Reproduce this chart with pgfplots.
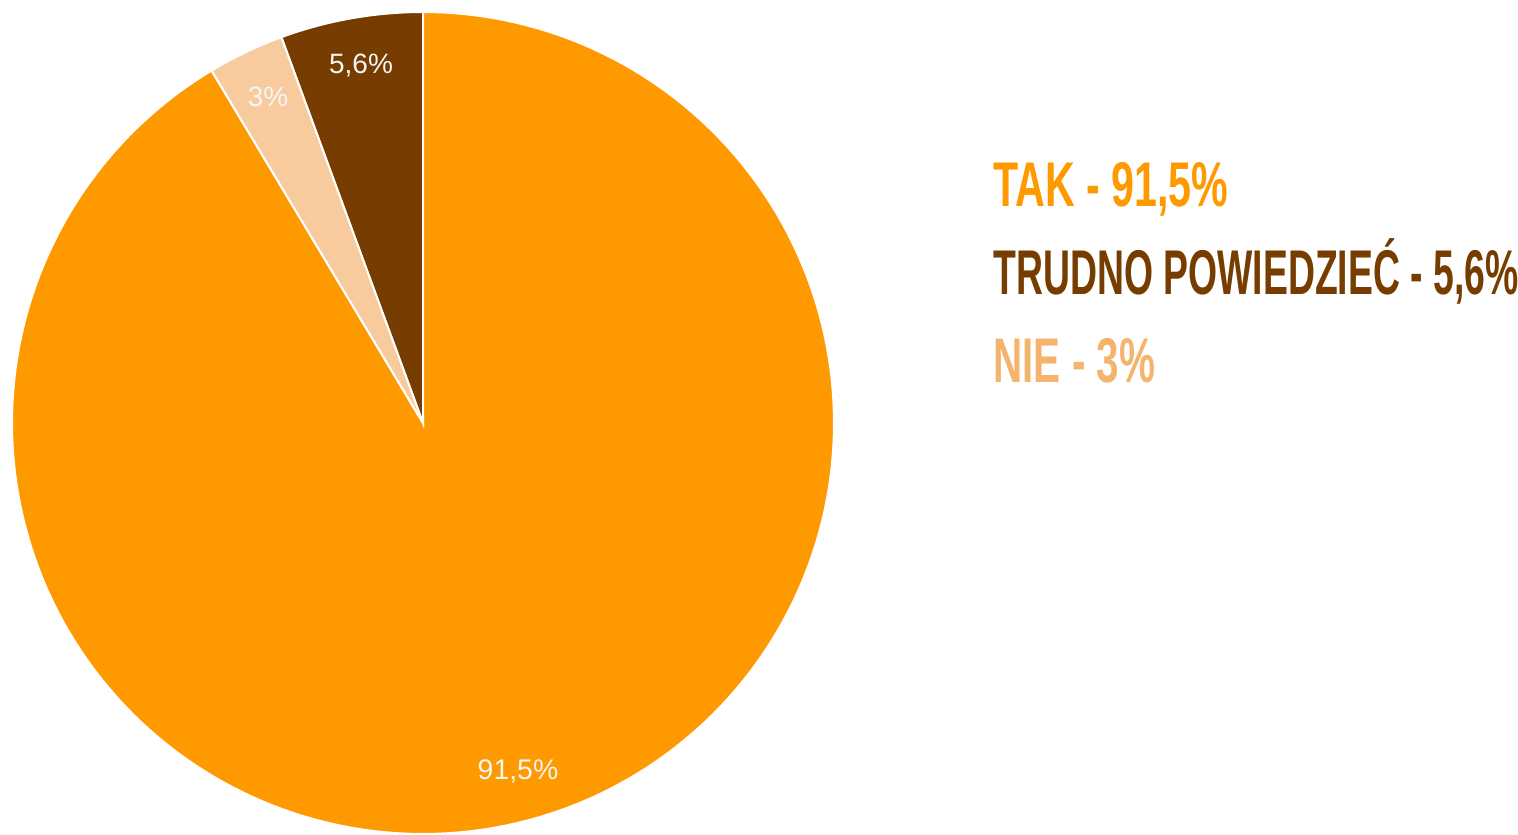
\documentclass[border=0pt]{standalone}
\usepackage{pgfplots}
\pgfplotsset{compat=1.18}
\usepackage{fontspec}
\setmainfont{Liberation Sans}
\newfontfamily\legA[FakeStretch=0.652]{Liberation Sans}
\newfontfamily\legB[FakeStretch=0.591]{Liberation Sans}
\newfontfamily\legC[FakeStretch=0.64]{Liberation Sans}
\definecolor{cTak}{HTML}{FF9900}
\definecolor{cTrud}{HTML}{773D00}
\definecolor{cNie}{HTML}{F8CB9E}
\definecolor{cNieTxt}{HTML}{F5B46E}
\definecolor{cLab}{HTML}{F6F6F6}
% values (percent)
\def\vTak{91.5}
\def\vTrud{5.6}
\def\vNie{3}
\pgfmathsetmacro{\aA}{90}
\pgfmathsetmacro{\aB}{90+3.6*\vTrud}
\pgfmathsetmacro{\aC}{\aB+3.6*\vNie}
\pgfmathsetmacro{\aD}{\aC+3.6*\vTak}
\begin{document}
\begin{tikzpicture}
\begin{axis}[
  width=759pt, height=417pt, scale only axis,
  xmin=0, xmax=1518, ymin=0, ymax=834,
  hide axis, clip=false,
]
\useasboundingbox (axis cs:0,0) rectangle (axis cs:1518,834);
\addplot[fill=cTak, draw=white, line width=1pt, domain=\aC:\aD, samples=200]
  ({423+411*cos(x)},{411+411*sin(x)}) -- (axis cs:423,411) -- cycle;
\addplot[fill=cTrud, draw=white, line width=1pt, domain=\aA:\aB, samples=20]
  ({423+411*cos(x)},{411+411*sin(x)}) -- (axis cs:423,411) -- cycle;
\addplot[fill=cNie, draw=white, line width=1pt, domain=\aB:\aC, samples=20]
  ({423+411*cos(x)},{411+411*sin(x)}) -- (axis cs:423,411) -- cycle;
\node[text=cLab, font=\fontsize{14}{16}\selectfont] at (axis cs:361,768) {5,6\%};
\node[text=cLab, font=\fontsize{14}{16}\selectfont] at (axis cs:268,737) {3\%};
\node[text=cLab, font=\fontsize{14.2}{16}\selectfont] at (axis cs:518,63) {91,5\%};
\node[anchor=base west, inner sep=0pt, text=cTak, font=\legA\bfseries\fontsize{31.6}{34}\selectfont] at (axis cs:993,627) {TAK - 91,5\%};
\node[anchor=base west, inner sep=0pt, text=cTrud, font=\legB\bfseries\fontsize{31.6}{34}\selectfont] at (axis cs:993,539) {TRUDNO POWIEDZIEĆ - 5,6\%};
\node[anchor=base west, inner sep=0pt, text=cNieTxt, font=\legC\bfseries\fontsize{31.6}{34}\selectfont] at (axis cs:993,451) {NIE - 3\%};
\end{axis}
\end{tikzpicture}
\end{document}
